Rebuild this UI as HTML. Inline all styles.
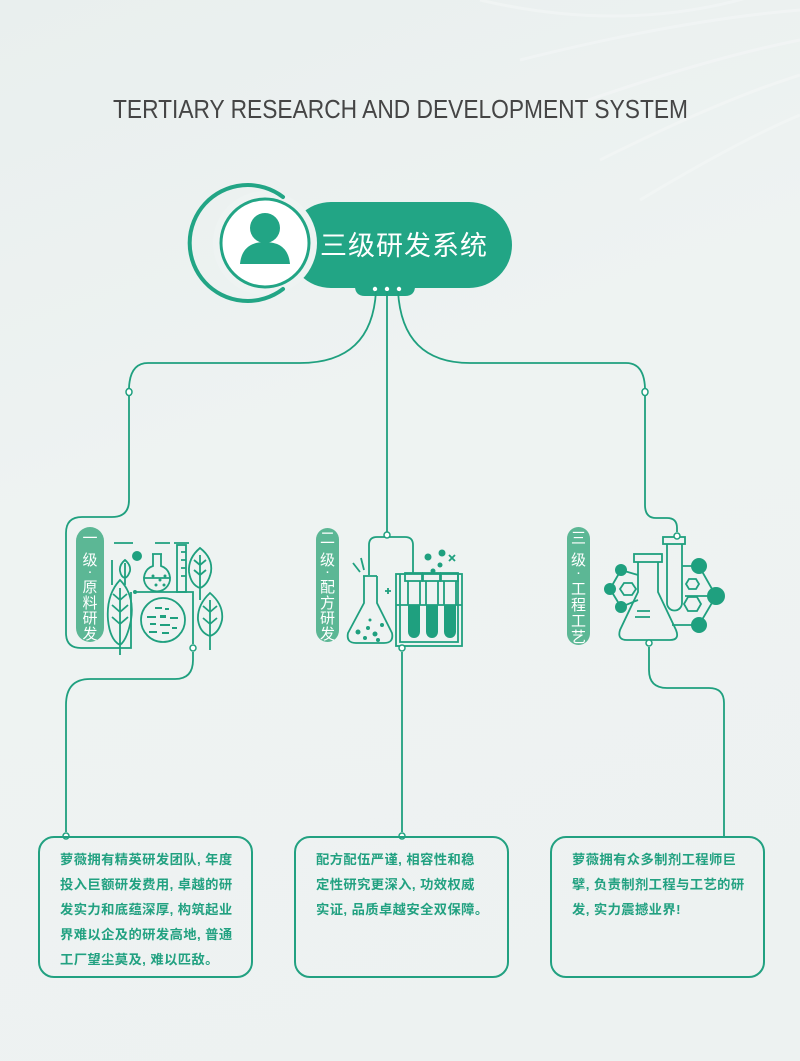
<!DOCTYPE html>
<html><head><meta charset="utf-8"><style>
html,body{margin:0;padding:0;}
body{width:800px;height:1061px;overflow:hidden;background:linear-gradient(160deg,#e9efee 0%,#eef3f2 40%,#edf2f1 100%);font-family:"Liberation Sans","Noto Sans CJK SC",sans-serif;position:relative;}
svg{position:absolute;left:0;top:0;}
.box{position:absolute;top:836px;height:142px;box-sizing:border-box;border:2px solid #22a181;border-radius:16px;color:#22a181;font-weight:bold;font-size:13.3px;line-height:25px;padding:9px 0 0 20px;letter-spacing:0.4px;font-family:"Liberation Sans","Noto Sans CJK SC",sans-serif;white-space:nowrap;}
</style></head><body>
<svg width="800" height="1061" viewBox="0 0 800 1061">
<g stroke="#fff" stroke-opacity="0.25" stroke-width="3" fill="none">
<path d="M480 0 Q650 40 800 -20"/><path d="M520 60 Q680 20 800 10"/><path d="M560 110 Q700 60 800 40"/><path d="M600 160 Q720 100 800 75"/><path d="M640 200 Q740 140 800 115"/>
</g>
<text x="113" y="118" font-family="Liberation Sans, sans-serif" font-size="26" fill="#454545" textLength="575" lengthAdjust="spacingAndGlyphs">TERTIARY RESEARCH AND DEVELOPMENT SYSTEM</text>

<g>
<rect x="288" y="202" width="224" height="86" rx="43" fill="#22a585"/>
<path d="M355 282 h60 v4 q0 10 -10 10 h-40 q-10 0 -10 -10 z" fill="#22a585"/>
<circle cx="265" cy="243" r="52" fill="#eef3f2"/>
<circle cx="265" cy="243" r="44" fill="#fff" stroke="#22a585" stroke-width="3"/>
<path d="M283 197 A58 58 0 1 0 283 289" fill="none" stroke="#22a585" stroke-width="4" stroke-linecap="round"/>
<circle cx="265" cy="228" r="15" fill="#22a585"/>
<path d="M240 264 Q242 242 265 242 Q288 242 290 264 z" fill="#22a585"/>
<text x="320" y="255" font-family="Liberation Sans, Noto Sans CJK SC, sans-serif" font-size="27" fill="#fff" textLength="167">三级研发系统</text>
<circle cx="375" cy="289" r="2.2" fill="#fff"/><circle cx="387" cy="289" r="2.2" fill="#fff"/><circle cx="399" cy="289" r="2.2" fill="#fff"/>
</g>

<g fill="none" stroke="#1fa07f" stroke-width="1.8">
<path d="M376 291 Q372 363 300 363 H148 Q130 363 129 388"/>
<path d="M129 396 V500 Q129 517 112 517 H82 Q66 517 66 533 V633 Q66 648 81 648 H131 V592"/>
<path d="M387 291 V535"/>
<path d="M398 291 Q402 363 470 363 H626 Q644 363 645 388"/>
<path d="M645 396 V505 Q645 518 656 518 H667 Q677 518 677 528 V532"/>
<path d="M193 652 V660 Q193 679 175 679 H90 Q66 679 66 705 V832"/>
<path d="M402 652 V832"/>
<path d="M649 647 V670 Q649 688 667 688 H709 Q724 688 724 703 V836"/>
</g>
<g fill="#fff" stroke="#1fa07f" stroke-width="1.5">
<ellipse cx="129" cy="392" rx="3" ry="3.5"/><ellipse cx="645" cy="392" rx="3" ry="3.5"/>
<circle cx="66" cy="836" r="3"/><circle cx="402" cy="836" r="3"/>
</g>

<g fill="#5cb795">
<rect x="76" y="527" width="28" height="115" rx="14"/>
<rect x="316" y="528" width="23" height="114" rx="11.5"/>
<rect x="567" y="527" width="23" height="118" rx="11.5"/>
</g>
<g font-family="Liberation Sans, Noto Sans CJK SC, sans-serif" font-size="15" fill="#fff" text-anchor="middle">
<text x="90" y="543">一</text><text x="90" y="565">级</text><text x="90" y="576">·</text><text x="90" y="592">原</text><text x="90" y="608">料</text><text x="90" y="623">研</text><text x="90" y="639">发</text>
<text x="327.5" y="543">二</text><text x="327.5" y="565">级</text><text x="327.5" y="576">·</text><text x="327.5" y="592">配</text><text x="327.5" y="608">方</text><text x="327.5" y="623">研</text><text x="327.5" y="639">发</text>
<text x="578.5" y="543">三</text><text x="578.5" y="565">级</text><text x="578.5" y="577">·</text><text x="578.5" y="594">工</text><text x="578.5" y="610">程</text><text x="578.5" y="626">工</text><text x="578.5" y="642">艺</text>
</g>

<g fill="none" stroke="#1fa07f" stroke-width="1.8">
<path d="M114 543 H133 M155 543 H170"/>
<path d="M112 560 V585"/>
<path d="M152 554 H162 M153 554 V566 A13 13 0 1 0 161 566 V554"/>
<path d="M144 578 H170"/>
<rect x="177" y="545" width="9" height="47"/>
<path d="M174 543 H189 M181 552 H186 M181 560 H186 M181 568 H186 M181 576 H186"/>
<path d="M135 592 H193 V644"/>
<circle cx="163" cy="620" r="22"/>
<path d="M120 580 Q135 595 131 620 Q127 640 120 645 Q110 640 108 620 Q106 595 120 580 Z M120 588 V655 M120 600 l-7 -6 M120 600 l7 -6 M120 612 l-8 -7 M120 612 l8 -7 M120 624 l-8 -7 M120 624 l8 -7"/>
<path d="M200 548 Q213 558 211 572 Q208 585 200 588 Q191 585 189 572 Q188 558 200 548 Z M200 555 V600 M200 565 l-6 -5 M200 565 l6 -5 M200 575 l-6 -5 M200 575 l6 -5"/>
<path d="M210 593 Q224 605 222 620 Q219 633 210 636 Q200 633 198 620 Q197 605 210 593 Z M210 600 V650 M210 612 l-7 -6 M210 612 l7 -6 M210 624 l-7 -6 M210 624 l7 -6"/>
<path d="M125 560 Q131 565 130 571 Q128 577 125 578 Q121 577 120 571 Q119 565 125 560 Z M125 563 V585"/>
</g>
<g fill="#1fa07f">
<circle cx="137" cy="556" r="5"/><circle cx="135" cy="592" r="2"/>
<circle cx="153" cy="576" r="1.5"/><circle cx="160" cy="580" r="1.5"/><circle cx="156" cy="585" r="1.5"/><circle cx="165" cy="576" r="1.5"/><circle cx="164" cy="585" r="1.5"/>
<rect x="155" y="607" width="7" height="2"/><rect x="165" y="608" width="4" height="2"/><rect x="147" y="616" width="9" height="2"/><rect x="160" y="615" width="6" height="3"/><rect x="170" y="617" width="8" height="2"/><rect x="150" y="623" width="6" height="2"/><rect x="160" y="624" width="10" height="2"/><rect x="149" y="631" width="8" height="2"/><rect x="162" y="632" width="7" height="2"/><rect x="172" y="627" width="5" height="2"/>
</g>
<circle cx="193" cy="648" r="3" fill="#fff" stroke="#1fa07f" stroke-width="1.5"/>

<g fill="none" stroke="#1fa07f" stroke-width="1.8">
<path d="M369 575 V545 Q369 537 377 537 H405 Q413 537 413 545 V573"/>
<path d="M363 576 H377 M364 576 V603 L348 633 Q346 643 356 643 H384 Q394 643 392 633 L377 603 V576"/>
<path d="M353 563 L360 572 M361 558 L364 570"/>
<path d="M385 591 H391 M388 588 V594"/>
<rect x="396" y="574" width="66" height="72"/>
<path d="M400 574 V642 H458 V574"/>
<path d="M396 605 H462"/>
<rect x="405" y="573" width="17" height="8"/><rect x="423" y="573" width="17" height="8"/><rect x="441" y="573" width="17" height="8"/>
<path d="M449 555 l6 6 M455 555 l-6 6"/>
<path d="M408 581 V605 M420 581 V605 M426 581 V605 M438 581 V605 M444 581 V605 M456 581 V605"/>
</g>
<g fill="#1fa07f">
<path d="M408 605 V632 A6 6 0 0 0 420 632 V605 Z"/><path d="M426 605 V632 A6 6 0 0 0 438 632 V605 Z"/><path d="M444 605 V632 A6 6 0 0 0 456 632 V605 Z"/>
<circle cx="428" cy="557" r="3.5"/><circle cx="442" cy="553" r="3.5"/><circle cx="440" cy="565" r="2.5"/><circle cx="433" cy="571" r="2.5"/>
<circle cx="358" cy="632" r="2.5"/><circle cx="368" cy="628" r="2"/><circle cx="375" cy="634" r="2.5"/><circle cx="382" cy="625" r="2"/><circle cx="365" cy="638" r="2"/><circle cx="378" cy="640" r="2"/><circle cx="370" cy="620" r="1.5"/>
</g>
<circle cx="387" cy="535" r="3" fill="#fff" stroke="#1fa07f" stroke-width="1.5"/>
<circle cx="402" cy="648" r="3" fill="#fff" stroke="#1fa07f" stroke-width="1.5"/>

<g fill="none" stroke="#1fa07f" stroke-width="1.8">
<rect x="663" y="537" width="22" height="7"/>
<path d="M667 544 V603 A7.5 7.5 0 0 0 682 603 V544"/>
<rect x="634" y="554" width="28" height="8"/>
<path d="M638 562 V592 L620 630 Q617 640 627 640 H670 Q680 640 676 630 L658 592 V562"/>
<path d="M637 611 H650 M635 617 H650"/>
<path d="M621 570 L638 575 M610 589 L621 570 M610 589 L621 607 M621 607 L638 600"/>
<path d="M682 566 H699 L716 596 L699 625 H672 M685 596 H716"/>
<path d="M620 589 l4 -6 h8 l4 6 l-4 6 h-8 z"/>
<path d="M686 584 l3 -5 h7 l3 5 l-3 5 h-7 z"/>
<path d="M684 604 l4 -7 h9 l4 7 l-4 7 h-9 z"/>
</g>
<g fill="#1fa07f">
<circle cx="621" cy="570" r="6"/><circle cx="610" cy="589" r="6"/><circle cx="621" cy="607" r="6"/>
<circle cx="699" cy="566" r="8"/><circle cx="716" cy="596" r="9"/><circle cx="699" cy="625" r="8"/>
</g>
<circle cx="677" cy="536" r="3" fill="#fff" stroke="#1fa07f" stroke-width="1.5"/>
<circle cx="649" cy="643" r="3" fill="#fff" stroke="#1fa07f" stroke-width="1.5"/>
</svg>

<div class="box" style="left:38px;width:215px;">萝薇拥有精英研发团队, 年度<br>投入巨额研发费用, 卓越的研<br>发实力和底蕴深厚, 构筑起业<br>界难以企及的研发高地, 普通<br>工厂望尘莫及, 难以匹敌。</div>
<div class="box" style="left:294px;width:215px;">配方配伍严谨, 相容性和稳<br>定性研究更深入, 功效权威<br>实证, 品质卓越安全双保障。</div>
<div class="box" style="left:550px;width:215px;">萝薇拥有众多制剂工程师巨<br>擘, 负责制剂工程与工艺的研<br>发, 实力震撼业界!</div>
</body></html>
